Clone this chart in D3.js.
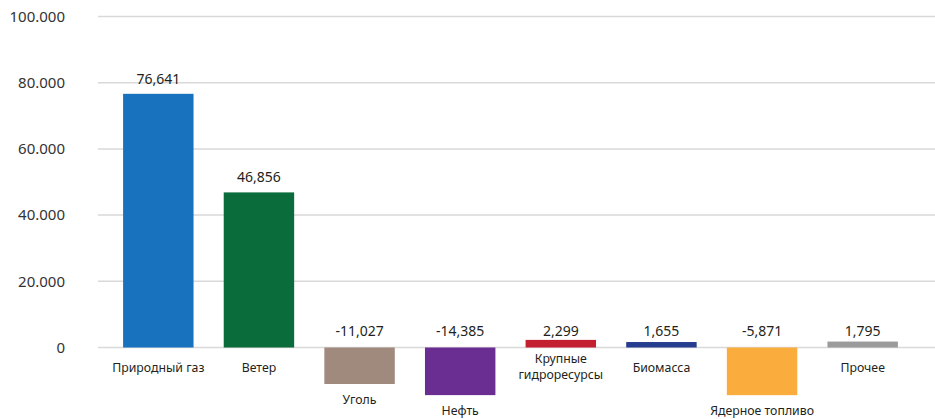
<!DOCTYPE html>
<html><head><meta charset="utf-8">
<script src="https://cdn.jsdelivr.net/npm/d3@7/dist/d3.min.js"></script>
<style>body{margin:0;background:#fff;} svg{display:block;font-family:"Noto Sans","Open Sans",sans-serif;}</style>
</head><body>
<svg id="c" width="935" height="419"></svg>
<script>
const categories = ["Природный газ","Ветер","Уголь","Нефть","Крупные\nгидроресурсы","Биомасса","Ядерное топливо","Прочее"];
// bar heights as drawn in the picture (the nuclear bar is drawn about as deep as oil)
const values = [76641, 46856, -11027, -14385, 2299, 1655, -14400, 1795];
const valueLabels = ["76,641","46,856","-11,027","-14,385","2,299","1,655","-5,871","1,795"];
const colors = ["#1872bd","#0a6b3b","#a08a7e","#6a2d91","#c41f30","#263d8f","#faad3d","#9b9b9b"];
const yTicks = [0, 20000, 40000, 60000, 80000, 100000];
const yTickLabels = ["0","20.000","40.000","60.000","80.000","100.000"];

const svg = d3.select("#c");
const x = d3.scaleBand().domain(categories).range([108, 913]).paddingInner(0.3).paddingOuter(0.15);
const y = d3.scaleLinear().domain([0, 100000]).range([347.5, 16.5]);
const y0 = y(0);
const txt = "#231f20";

// grid
svg.append("g").selectAll("line").data(yTicks).join("line")
  .attr("x1", 98).attr("x2", 935)
  .attr("y1", d => y(d)).attr("y2", d => y(d))
  .attr("stroke", "#d9d9d9").attr("stroke-width", 1.5);

// y axis labels
const yAxis = d3.axisLeft(y).tickValues(yTicks).tickSize(0).tickPadding(0)
  .tickFormat((d,i) => yTickLabels[i]);
const ga = svg.append("g").attr("transform", "translate(65,0)").call(yAxis);
ga.select(".domain").remove();
ga.selectAll("text").attr("font-size", 15).attr("fill", "#333").attr("font-family", "Noto Sans, sans-serif");

// bars
svg.append("g").selectAll("rect").data(values).join("rect")
  .attr("x", (d,i) => x(categories[i]))
  .attr("width", x.bandwidth())
  .attr("y", d => Math.min(y(d), y0))
  .attr("height", d => Math.abs(y(d) - y0))
  .attr("fill", (d,i) => colors[i]);

// value labels
svg.append("g").selectAll("text").data(values).join("text")
  .attr("x", (d,i) => x(categories[i]) + x.bandwidth()/2)
  .attr("y", d => d > 10000 ? y(d) - 10 : y0 - 12)
  .attr("text-anchor", "middle").attr("font-size", 14).attr("fill", txt)
  .text((d,i) => valueLabels[i]);

// category labels
const cl = svg.append("g").selectAll("text").data(values).join("text")
  .attr("x", (d,i) => x(categories[i]) + x.bandwidth()/2)
  .attr("y", d => d < 0 ? y(d) + 20 : y0 + 24)
  .attr("text-anchor", "middle").attr("font-size", 12.3).attr("fill", txt);
cl.each(function(d,i){
  const lines = categories[i].split("\n");
  const t = d3.select(this);
  if (lines.length > 1) t.attr("y", y0 + 15);
  lines.forEach((ln, j) => {
    t.append("tspan").attr("x", x(categories[i]) + x.bandwidth()/2)
      .attr("dy", j === 0 ? 0 : 16).text(ln);
  });
});
</script>
</body></html>
